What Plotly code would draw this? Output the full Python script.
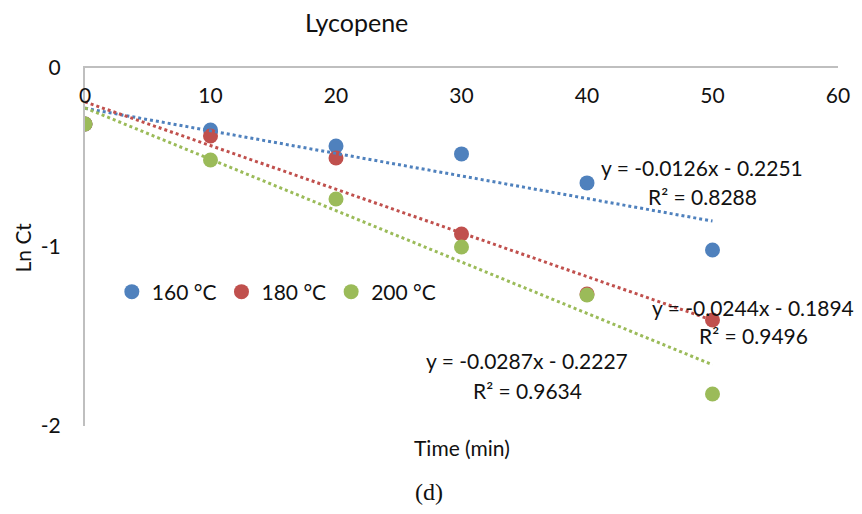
import plotly.graph_objects as go

# ---- data ----
time_min = [0, 10, 20, 30, 40, 50]
series_names = ["160 °C", "180 °C", "200 °C"]
ln_ct_160 = [-0.313, -0.346, -0.436, -0.480, -0.642, -1.017]
ln_ct_180 = [-0.313, -0.380, -0.503, -0.927, -1.263, -1.408]
ln_ct_200 = [-0.313, -0.514, -0.732, -1.000, -1.268, -1.821]
fit_slopes = [-0.0126, -0.0244, -0.0287]
fit_intercepts = [-0.2251, -0.1894, -0.2227]
fit_r2 = [0.8288, 0.9496, 0.9634]
x_ticks = [0, 10, 20, 30, 40, 50, 60]
y_ticks = [0, -1, -2]

colors = ["#4F81BD", "#C0504D", "#9BBB59"]
series_values = [ln_ct_160, ln_ct_180, ln_ct_200]
FONT = "Lato, 'Open Sans', sans-serif"
TXT = "#111111"
FS = 21

fig = go.Figure()

for name, vals, col in zip(series_names, series_values, colors):
    fig.add_trace(go.Scatter(
        x=time_min, y=vals, mode="markers", name=name,
        marker=dict(color=col, size=15, line=dict(width=0)),
    ))

fit_x = [min(time_min), max(time_min)]
for m, b, col in zip(fit_slopes, fit_intercepts, colors):
    fig.add_trace(go.Scatter(
        x=fit_x, y=[m * xx + b for xx in fit_x], mode="lines",
        line=dict(color=col, width=3, dash="dot"),
        showlegend=False, hoverinfo="skip",
    ))

L, R, T, B = 85, 843, 68, 426
W, H = 862, 514
def px(x):
    return (x - L) / (R - L)
def py(y):
    return (B - y) / (B - T)

eq_pos = [((706, 167), (707, 196)), ((757, 307), (758, 335)), ((530, 360), (530, 390))]
annotations = []
for m, b, r2, ((ex, ey), (rx, ry)) in zip(fit_slopes, fit_intercepts, fit_r2, eq_pos):
    sign = "-" if b < 0 else "+"
    annotations.append(dict(x=px(ex), y=py(ey), xref="paper", yref="paper",
                            text=f"y = {m:.4f}x {sign} {abs(b):.4f}", showarrow=False,
                            font=dict(family=FONT, size=FS, color=TXT),
                            xanchor="center", yanchor="middle"))
    annotations.append(dict(x=px(rx), y=py(ry), xref="paper", yref="paper",
                            text=f"R² = {r2:.4f}", showarrow=False,
                            font=dict(family=FONT, size=FS, color=TXT),
                            xanchor="center", yanchor="middle"))

annotations.append(dict(x=px(358), y=py(22), xref="paper", yref="paper", text="Lycopene",
                        showarrow=False, font=dict(family=FONT, size=25, color=TXT),
                        xanchor="center", yanchor="middle"))
annotations.append(dict(x=px(464), y=py(447), xref="paper", yref="paper", text="Time (min)",
                        showarrow=False, font=dict(family=FONT, size=FS, color=TXT),
                        xanchor="center", yanchor="middle"))
annotations.append(dict(x=px(22), y=py(247), xref="paper", yref="paper", text="Ln Ct",
                        showarrow=False, textangle=-90,
                        font=dict(family=FONT, size=FS, color=TXT),
                        xanchor="center", yanchor="middle"))
annotations.append(dict(x=px(431), y=py(492), xref="paper", yref="paper", text="(d)",
                        showarrow=False,
                        font=dict(family="'Liberation Serif', 'DejaVu Serif', serif", size=24, color=TXT),
                        xanchor="center", yanchor="middle"))

fig.update_layout(
    width=W, height=H,
    margin=dict(l=L, r=W - R, t=T, b=H - B),
    paper_bgcolor="white", plot_bgcolor="white",
    font=dict(family=FONT, size=FS, color=TXT),
    showlegend=True,
    legend=dict(orientation="h", x=px(112), y=py(292), xanchor="left", yanchor="middle",
                font=dict(family=FONT, size=FS, color=TXT), bgcolor="rgba(0,0,0,0)",
                itemsizing="trace", itemwidth=30, tracegroupgap=0),
    annotations=annotations,
    xaxis=dict(range=[0, 60], side="top", tickvals=x_ticks, ticktext=[str(t) for t in x_ticks],
               ticklabelposition="inside", ticklabelstandoff=22, ticklabeloverflow="allow", ticks="",
               showline=True, linecolor="#BFBFBF", linewidth=2, showgrid=False, zeroline=False,
               tickfont=dict(family=FONT, size=FS, color=TXT), fixedrange=True),
    yaxis=dict(range=[-2, 0], tickvals=y_ticks, ticktext=[str(t) for t in y_ticks],
               ticks="", ticklabelstandoff=18, ticklabeloverflow="allow",
               showline=True, linecolor="#BFBFBF", linewidth=2, showgrid=False, zeroline=False,
               tickfont=dict(family=FONT, size=FS, color=TXT), fixedrange=True),
)

fig.write_html("out.html")
